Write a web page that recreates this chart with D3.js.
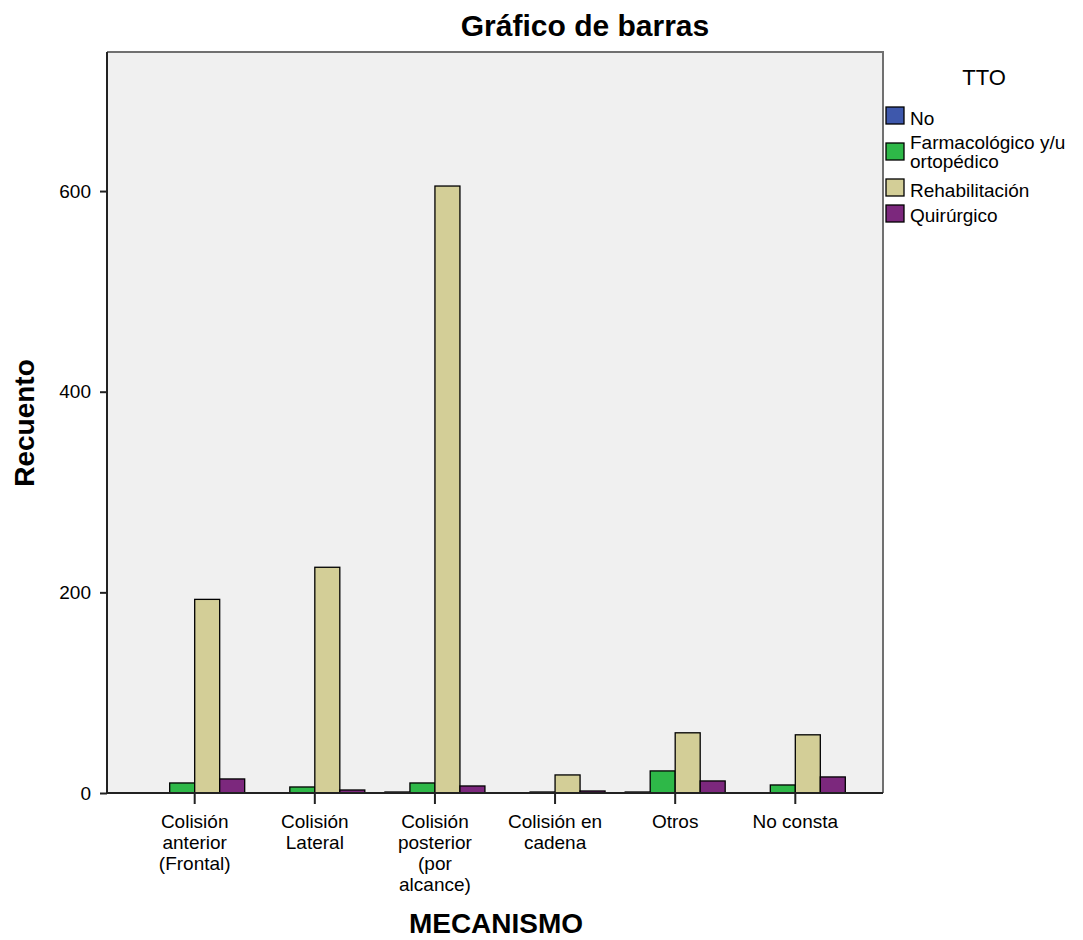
<!DOCTYPE html>
<html><head><meta charset="utf-8">
<script src="https://cdn.jsdelivr.net/npm/d3@7"></script>
<style>
html,body{margin:0;padding:0;background:#fff;}
text{font-family:"Liberation Sans",Arial,sans-serif;fill:#000;}
</style></head>
<body>
<svg id="chart" width="1083" height="940"></svg>
<script>
const categories = ["Colisión anterior (Frontal)","Colisión Lateral","Colisión posterior (por alcance)","Colisión en cadena","Otros","No consta"];
const categoryLabelLines = [["Colisión","anterior","(Frontal)"],["Colisión","Lateral"],["Colisión","posterior","(por","alcance)"],["Colisión en","cadena"],["Otros"],["No consta"]];
const seriesNames = ["No","Farmacológico y/u ortopédico","Rehabilitación","Quirúrgico"];
const seriesLabelLines = [["No"],["Farmacológico y/u","ortopédico"],["Rehabilitación"],["Quirúrgico"]];
const valuesNo = [0,0,1,0,1,0];
const valuesFarmacologico = [10,6,10,1,22,8];
const valuesRehabilitacion = [193,225,605,18,60,58];
const valuesQuirurgico = [14,3,7,2,12,16];
const yTicks = [0,200,400,600];
const colors = ["#3E58AC","#2EB848","#D3CE97","#7C287D"];

const seriesValues = [valuesNo, valuesFarmacologico, valuesRehabilitacion, valuesQuirurgico];
const svg = d3.select("#chart");
const L = 107, R = 883, T = 52, B = 793;

const x = d3.scaleBand().domain(categories).range([L, R]).paddingInner(0).paddingOuter(0.23);
const xs = d3.scaleBand().domain(seriesNames).range([-50, 50]);
const y = d3.scaleLinear().domain([0, 738.6]).range([B, T]);

// plot background
svg.append("rect").attr("x", L).attr("y", T).attr("width", R - L).attr("height", B - T)
  .attr("fill", "#F0F0F0");
// top & right border
svg.append("path").attr("d", `M${L},${T}H${R}V${B}`).attr("fill", "none")
  .attr("stroke", "#707070").attr("stroke-width", 2);

// bars
const data = [];
categories.forEach((c, i) => seriesNames.forEach((s, j) => data.push({c, s, j, v: seriesValues[j][i]})));
svg.append("g").selectAll("rect").data(data.filter(d => d.v > 0)).join("rect")
  .attr("x", d => x(d.c) + x.bandwidth() / 2 + xs(d.s))
  .attr("y", d => y(d.v))
  .attr("width", xs.bandwidth())
  .attr("height", d => y(0) - y(d.v))
  .attr("fill", d => colors[d.j])
  .attr("stroke", "#000").attr("stroke-width", 1.3);

// y axis
const yAxis = svg.append("g").attr("transform", `translate(${L},0)`)
  .call(d3.axisLeft(y).tickValues(yTicks).tickSize(7).tickPadding(9).tickFormat(d3.format("d")));
yAxis.select(".domain").attr("stroke", "#222").attr("stroke-width", 2).attr("d", `M0,${T}V${B}`);
yAxis.selectAll(".tick line").attr("stroke", "#222").attr("stroke-width", 2);
yAxis.selectAll(".tick text").attr("font-size", 19).attr("fill", "#000")
  .style("font-family", '"Liberation Sans",Arial,sans-serif');

// x axis
const xAxis = svg.append("g").attr("transform", `translate(0,${B})`)
  .call(d3.axisBottom(x).tickSize(11).tickFormat(""));
xAxis.select(".domain").attr("stroke", "#222").attr("stroke-width", 2).attr("d", `M${L},0H${R}`);
xAxis.selectAll(".tick line").attr("stroke", "#222").attr("stroke-width", 2);
xAxis.selectAll(".tick").each(function(d, i) {
  const t = d3.select(this).append("text").attr("text-anchor", "middle")
    .attr("font-size", 19).attr("fill", "#3a3a3a");
  categoryLabelLines[i].forEach((ln, k) => {
    t.append("tspan").attr("x", 0).attr("y", 35 + k * 21).text(ln);
  });
});

// titles
svg.append("text").attr("x", 585).attr("y", 36).attr("text-anchor", "middle")
  .attr("font-size", 30).attr("font-weight", "bold").text("Gráfico de barras");
svg.append("text").attr("x", 496).attr("y", 933).attr("text-anchor", "middle")
  .attr("font-size", 28).attr("font-weight", "bold").text("MECANISMO");
svg.append("text").attr("transform", "translate(34,423) rotate(-90)").attr("text-anchor", "middle")
  .attr("font-size", 28).attr("font-weight", "bold").text("Recuento");

// legend
svg.append("text").attr("x", 984).attr("y", 85).attr("text-anchor", "middle")
  .attr("font-size", 22).attr("fill", "#333").text("TTO");
const legendRows = [
  {sy: 107, ty: [125]},
  {sy: 143, ty: [149, 168]},
  {sy: 179, ty: [197]},
  {sy: 205, ty: [222]}
];
const lg = svg.append("g");
seriesNames.forEach((s, j) => {
  lg.append("rect").attr("x", 886).attr("y", legendRows[j].sy).attr("width", 18).attr("height", 17)
    .attr("fill", colors[j]).attr("stroke", "#000").attr("stroke-width", 1.3);
  seriesLabelLines[j].forEach((ln, k) => {
    lg.append("text").attr("x", 910).attr("y", legendRows[j].ty[k]).attr("font-size", 19)
      .attr("fill", "#222").text(ln);
  });
});
</script>
</body></html>
